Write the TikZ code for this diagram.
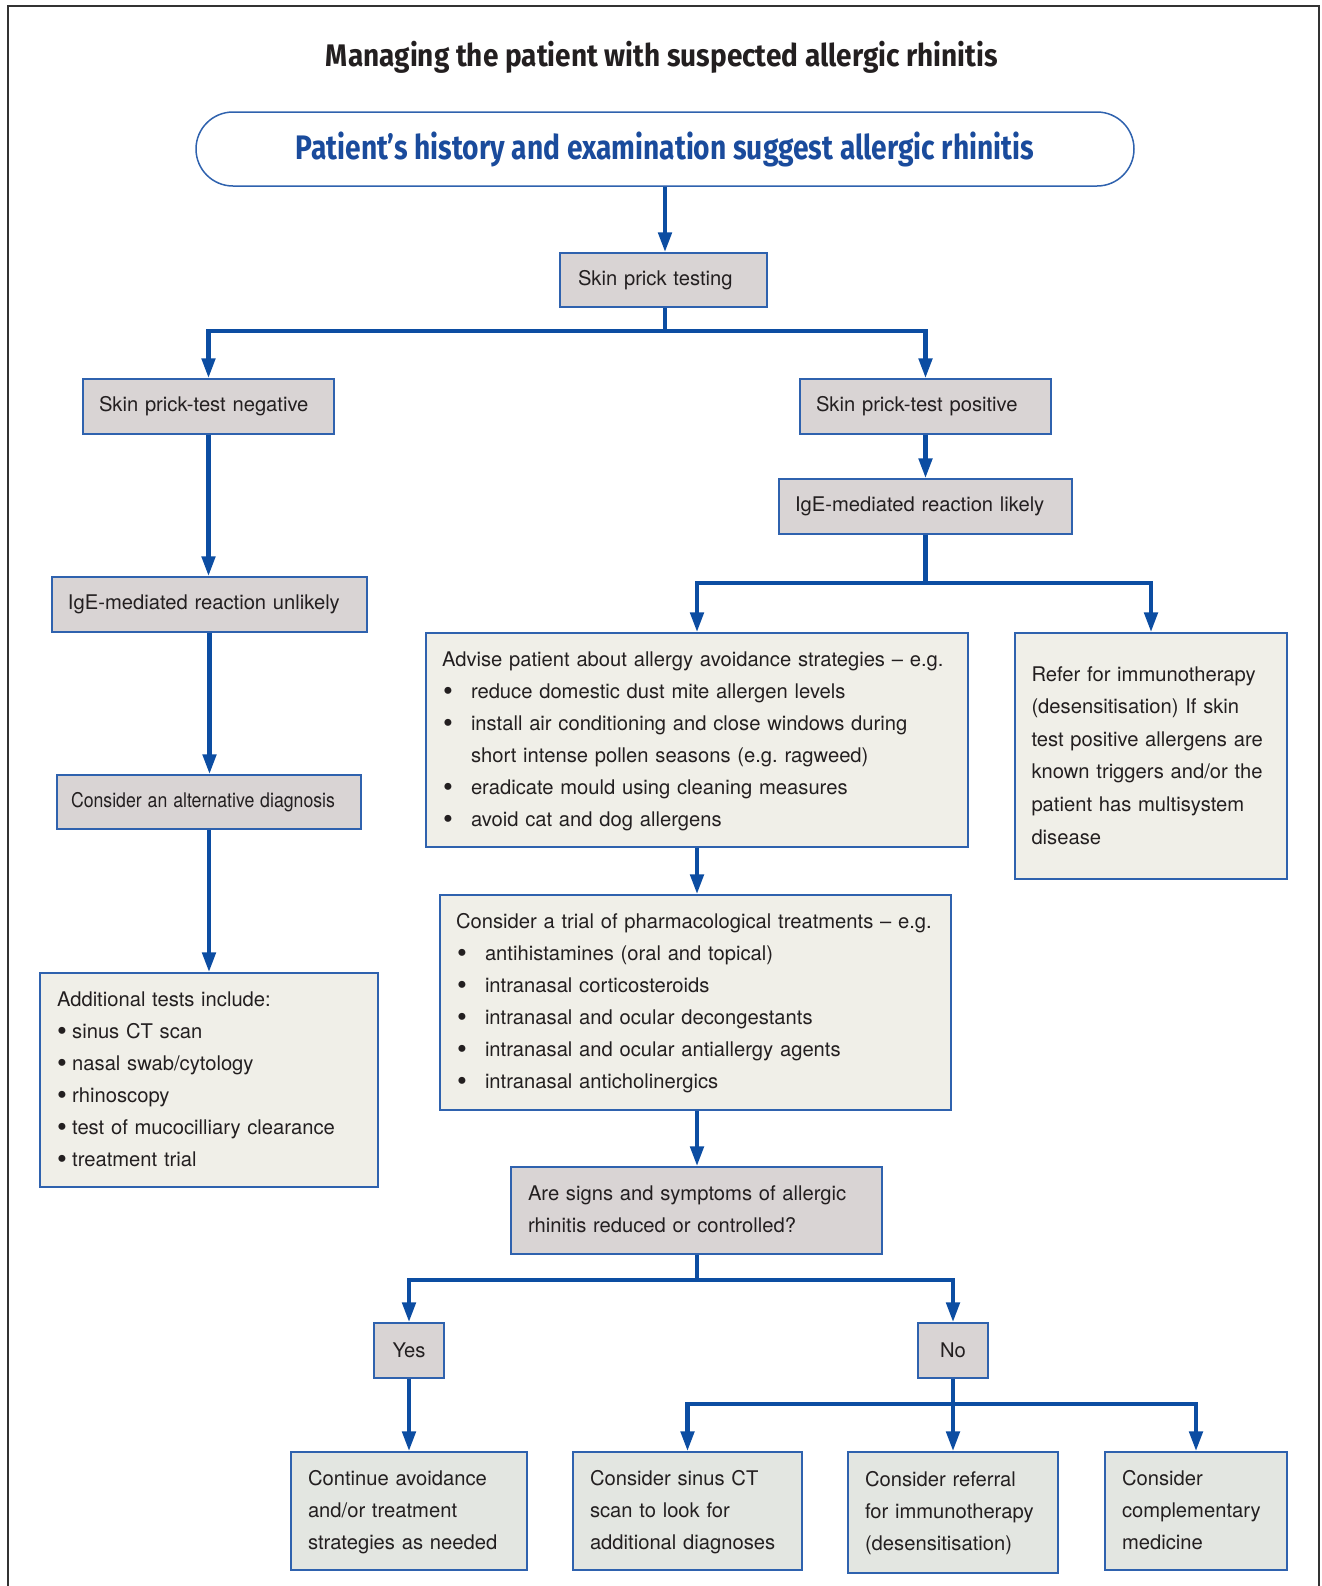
\documentclass[tikz,border=0pt]{standalone}
\usepackage{fontspec}
\usepackage{graphicx}
\setmainfont{TeX Gyre Heros}
\newfontfamily\condfont{Fira Sans}
\usetikzlibrary{arrows.meta}
\definecolor{txt}{HTML}{231F20}
\definecolor{bord}{HTML}{2F62AE}
\definecolor{arrb}{HTML}{0C4DA2}
\definecolor{headb}{HTML}{1A4B9C}
\definecolor{gfill}{HTML}{D9D4D4}
\definecolor{cfill}{HTML}{F0EFE8}
\definecolor{bfill}{HTML}{E3E6E1}
\definecolor{framec}{HTML}{333333}
\frenchspacing
\newcommand\lns[1]{\begin{tabular}{@{}l@{}}#1\end{tabular}}
\newcommand\bigbul{\raisebox{-0.9pt}{\fontsize{14}{14}\selectfont\textbullet}}
\newcommand\bul{\makebox[14.5pt][l]{\hspace{0.5pt}\bigbul}}
\newcommand\sbul{\makebox[7.6pt][l]{\bigbul}}
\begin{document}
\begin{tikzpicture}[x=0.5pt,y=-0.5pt,
  box/.style={draw=bord, line width=0.75pt, align=left, inner xsep=8pt, inner ysep=0pt,
    text=txt, font=\fontsize{10.1}{16}\selectfont},
  gbox/.style={box, fill=gfill},
  cbox/.style={box, fill=cfill},
  bbox/.style={box, fill=bfill},
  link/.style={draw=arrb, line width=2.2pt},
  arr/.style={link, -{Triangle[width=6.6pt,length=10pt]}}]
\useasboundingbox (0,0) rectangle (1322,1586);
\draw[framec, line width=1pt] (8,1586) -- (8,6) -- (1319,6) -- (1319,1586);

\node[text=txt, anchor=base] (title) at (662,66)
  {\resizebox{336pt}{\height}{\condfont\bfseries\fontsize{15.6}{18}\selectfont Managing the patient with suspected allergic rhinitis}};

\node[draw=bord, line width=0.75pt, fill=white, rounded corners=18.5pt, minimum width=469pt,
  minimum height=37pt, text=headb] (hist) at (665,149)
  {\resizebox{369pt}{\height}{\condfont\bfseries\fontsize{17}{20}\selectfont Patient’s history and examination suggest allergic rhinitis}};

\node[gbox, text width=85.5pt, inner xsep=9pt, minimum height=27pt] (spt) at (663.5,280) {Skin prick testing};
\node[gbox, text width=109.5pt, minimum height=27.5pt] (neg) at (208.5,406.5) {Skin prick-test negative};
\node[gbox, text width=109.5pt, minimum height=27.5pt] (pos) at (925.5,406.5) {Skin prick-test positive};
\node[gbox, text width=130.5pt, minimum height=27.5pt] (likely) at (925.5,506.5) {IgE-mediated reaction likely};
\node[gbox, text width=141.5pt, minimum height=27.5pt] (unlikely) at (209.5,604.5) {IgE-mediated reaction unlikely};
\node[gbox, text width=138pt, inner xsep=7pt, minimum height=27pt] (alt) at (209,802)
  {\resizebox{132pt}{\height}{Consider an alternative diagnosis}};

\node[cbox, text width=152pt, inner xsep=8.5pt, minimum height=107pt] (addl) at (209,1080)
  {\lns{Additional tests include:\\
  \sbul sinus CT scan\\
  \sbul nasal swab/cytology\\
  \sbul rhinoscopy\\
  \sbul test of mucocilliary clearance\\
  \sbul treatment trial}};

\node[cbox, text width=255pt, minimum height=107pt] (advise) at (697,740)
  {\lns{Advise patient about allergy avoidance strategies -- e.g.\\
  \bul reduce domestic dust mite allergen levels\\
  \bul install air conditioning and close windows during\\
  \hspace*{14.5pt}short intense pollen seasons (e.g. ragweed)\\
  \bul eradicate mould using cleaning measures\\
  \bul avoid cat and dog allergens}};

\node[cbox, text width=119.5pt, inner xsep=8.25pt, minimum height=123pt,
  font=\fontsize{10.1}{16.3}\selectfont] (refer) at (1151,756)
  {\lns{Refer for immunotherapy\\
  (desensitisation) If skin\\
  test positive allergens are\\
  known triggers and/or the\\
  patient has multisystem\\
  disease}};

\node[cbox, text width=239.5pt, minimum height=107.5pt] (pharm) at (695.5,1002.5)
  {\lns{Consider a trial of pharmacological treatments -- e.g.\\
  \bul antihistamines (oral and topical)\\
  \bul intranasal corticosteroids\\
  \bul intranasal and ocular decongestants\\
  \bul intranasal and ocular antiallergy agents\\
  \bul intranasal anticholinergics}};

\node[gbox, text width=168.5pt, inner xsep=8.5pt, minimum height=43.5pt] (signs) at (696.5,1210.5)
  {\lns{Are signs and symptoms of allergic\\rhinitis reduced or controlled?}};

\node[gbox, minimum width=35pt, minimum height=27.5pt] (yes) at (409,1350.5) {Yes};
\node[gbox, minimum width=35pt, minimum height=27.5pt] (no) at (953,1350.5) {No};

\node[bbox, text width=101pt, inner xsep=8.5pt, minimum height=59pt] (cont) at (409,1511)
  {\lns{Continue avoidance\\and/or treatment\\strategies as needed}};
\node[bbox, text width=97.5pt, inner xsep=8.5pt, minimum height=59pt] (ct) at (687.5,1511)
  {\lns{Consider sinus CT\\scan to look for\\additional diagnoses}};
\node[bbox, text width=88pt, inner xsep=8.5pt, minimum height=60.5pt] (ref2) at (953,1512.5)
  {\lns{Consider referral\\for immunotherapy\\(desensitisation)}};
\node[bbox, text width=74pt, inner xsep=8.5pt, minimum height=59pt] (comp) at (1196,1511)
  {\lns{Consider\\complementary\\medicine}};

% connectors
\draw[arr] (hist.south) -- (hist.south |- spt.north);
\coordinate (j1) at (665,331);
\draw[link] (spt.south -| j1) -- (j1);
\draw[arr] (j1) -| (neg.north);
\draw[arr] (j1) -| (pos.north);
\draw[arr] (pos.south) -- (likely.north);
\coordinate (j2) at (925.5,583);
\draw[link] (likely.south) -- (j2);
\draw[arr] (j2) -| (advise.north);
\draw[arr] (j2) -| (refer.north);
\draw[arr] (neg.south) -- (neg.south |- unlikely.north);
\draw[arr] (unlikely.south) -- (unlikely.south |- alt.north);
\draw[arr] (alt.south) -- (alt.south |- addl.north);
\draw[arr] (advise.south) -- (advise.south |- pharm.north);
\draw[arr] (advise.south |- pharm.south) -- (advise.south |- signs.north);
\coordinate (j3) at (697,1280);
\draw[link] (signs.south -| j3) -- (j3);
\draw[arr] (j3) -| (yes.north);
\draw[arr] (j3) -| (no.north);
\draw[arr] (yes.south) -- (cont.north);
\coordinate (j4) at (953,1404);
\draw[arr] (no.south) -- (ref2.north);
\draw[arr] (j4) -| (ct.north);
\draw[arr] (j4) -| (comp.north);
\end{tikzpicture}
\end{document}
